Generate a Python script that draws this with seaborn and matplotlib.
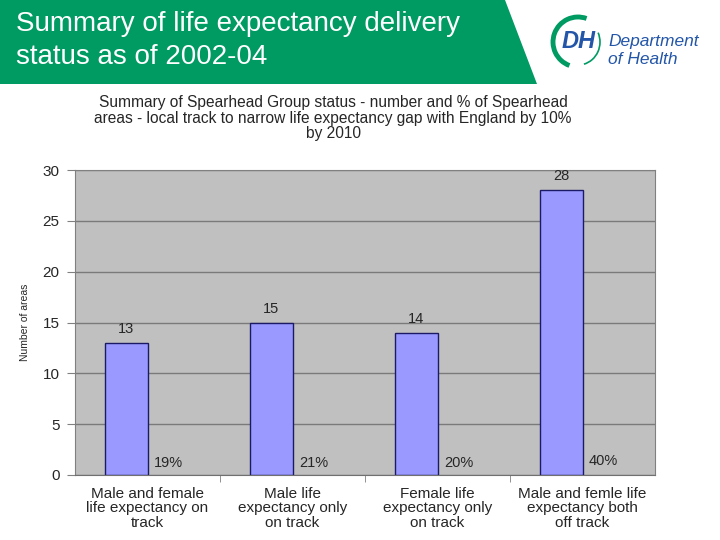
import pandas as pd
import matplotlib
matplotlib.use("Agg")
import matplotlib.pyplot as plt
from matplotlib.patches import Polygon, Arc
import seaborn as sns

# Data
categories = [
    "Male and female\nlife expectancy on\ntrack",
    "Male life\nexpectancy only\non track",
    "Female life\nexpectancy only\non track",
    "Male and femle life\nexpectancy both\noff track",
]
counts = [13, 15, 14, 28]
percents = [0.19, 0.21, 0.20, 0.40]
pct_labels = ["19%", "21%", "20%", "40%"]

df = pd.DataFrame({
    "Category": categories * 2,
    "Series": ["Number"] * 4 + ["Percent"] * 4,
    "Value": counts + percents,
})

sns.set_style("white")
plt.rcParams["font.family"] = ["Liberation Sans", "DejaVu Sans"]

W, H = 720, 540
fig = plt.figure(figsize=(7.2, 5.4), dpi=100)

def px(x, y):
    return (x / W, 1 - y / H)

# Green header banner
banner = Polygon([px(0, 0), px(505, 0), px(537, 84), px(0, 84)], closed=True,
                 transform=fig.transFigure, facecolor="#009A63", edgecolor="none")
fig.patches.append(banner)
fig.text(16 / W, 1 - 24 / H, "Summary of life expectancy delivery", color="white",
         fontsize=20, va="center", ha="left")
fig.text(16 / W, 1 - 57 / H, "status as of 2002-04", color="white",
         fontsize=20, va="center", ha="left")

# DH logo
dh_blue = "#2356A8"
arc_ax = fig.add_axes([548 / W, 1 - 72 / H, 60 / W, 60 / H])
arc_ax.set_xlim(0, 60)
arc_ax.set_ylim(0, 60)
arc_ax.axis("off")
arc_ax.add_patch(Arc((30, 30), 50, 50, theta1=70, theta2=250, color="#009A63", lw=3.5))
arc_ax.add_patch(Arc((30, 30), 44, 46, theta1=-75, theta2=25, color="#009A63", lw=1.2))
fig.text(579 / W, 1 - 41 / H, "DH", color=dh_blue, fontsize=17, fontweight="bold",
         style="italic", ha="center", va="center")
fig.text(608 / W, 1 - 42 / H, "Department", color=dh_blue, fontsize=12.5,
         style="italic", ha="left", va="center")
fig.text(608 / W, 1 - 59 / H, "of Health", color=dh_blue, fontsize=12.5,
         style="italic", ha="left", va="center")

# Chart title
fig.text(333 / W, 1 - 118 / H,
         "Summary of Spearhead Group status - number and % of Spearhead\n"
         "areas - local track to narrow life expectancy gap with England by 10%\n"
         "by 2010",
         ha="center", va="center", fontsize=11.2, linespacing=1.05)

ax = fig.add_axes([75 / W, 1 - 475 / H, 580 / W, 305 / H])
sns.barplot(data=df, x="Category", y="Value", hue="Series", ax=ax, width=0.58,
            palette=["#9999FF", "#9999FF"], saturation=1, edgecolor="#1A1A66",
            linewidth=1, legend=False)

# hide the percent bars, keep their labels
for p in ax.containers[1]:
    p.set_alpha(0)

ax.bar_label(ax.containers[0], labels=[str(c) for c in counts], padding=5, fontsize=10.5)
ax.bar_label(ax.containers[1], labels=pct_labels, padding=2, fontsize=10.5)

ax.set_facecolor("#C0C0C0")
ax.set_ylim(0, 30)
ax.set_xlim(-0.5, 3.5)
ax.set_yticks(range(0, 31, 5))
ax.yaxis.grid(True, color="#7A7A7A", linewidth=1)
ax.set_axisbelow(True)
for s in ax.spines.values():
    s.set_color("#808080")
ax.spines["bottom"].set_color("#707070")
ax.tick_params(axis="y", labelsize=11, left=True, length=6, color="#808080", pad=5)
ax.set_xticks(range(4))
ax.set_xticklabels(categories, fontsize=11, linespacing=1.05)
ax.tick_params(axis="x", bottom=False, pad=5)
ax.set_xticks([0.5, 1.5, 2.5], minor=True)
ax.tick_params(axis="x", which="minor", bottom=True, length=5, color="#808080")
ax.set_xlabel("")
ax.set_ylabel("Number of areas", fontsize=7.5, labelpad=9)

fig.savefig("out.png", dpi=100)
